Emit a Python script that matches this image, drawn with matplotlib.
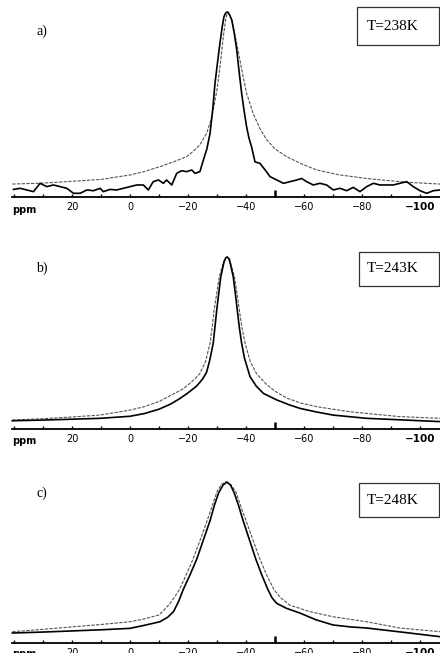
import matplotlib
matplotlib.use("Agg")
import matplotlib.pyplot as plt
from matplotlib.patches import Rectangle

# ---- data (ppm, normalised intensity) ----
labels = ["a)", "b)", "c)"]
temps = ["T=238K", "T=243K", "T=248K"]

# a) 238 K
ppm_a_exp = [40.2, 37.9, 35.6, 33.3, 31.0, 28.7, 26.4, 24.1, 21.8, 19.5, 17.2, 14.9,
             12.6, 10.3, 9.2, 6.9, 4.6, 2.3, 0.0, -2.3, -4.6, -6.3, -8.0, -9.8,
             -11.5, -12.6, -14.4, -16.1, -17.8, -19.5, -21.3, -22.4, -24.1, -25.3,
             -26.5, -27.6, -28.5, -29.3, -30.2, -31.0, -31.8, -32.4, -33.0, -33.6,
             -34.3, -35.1, -36.0, -36.8, -37.6, -38.5, -39.4, -40.2, -41.0, -41.9,
             -43.1, -44.8, -46.6, -48.3, -50.6, -52.9, -55.2, -57.5, -59.2, -60.9,
             -63.2, -65.5, -67.8, -70.1, -72.4, -74.7, -77.0, -79.3, -81.6, -83.9,
             -86.2, -88.5, -90.8, -93.1, -95.4, -97.7, -100.0, -102.3, -104.6, -106.9]
int_a_exp = [0.041, 0.047, 0.038, 0.029, 0.074, 0.056, 0.065, 0.056, 0.047, 0.020, 0.020, 0.038,
             0.034, 0.047, 0.029, 0.041, 0.038, 0.047, 0.056, 0.065, 0.065, 0.038, 0.083, 0.092,
             0.074, 0.092, 0.065, 0.128, 0.142, 0.137, 0.146, 0.128, 0.137, 0.200,
             0.260, 0.344, 0.470, 0.614, 0.730, 0.830, 0.920, 0.975, 0.995, 1.000,
             0.985, 0.957, 0.880, 0.795, 0.680, 0.560, 0.460, 0.380, 0.320, 0.272,
             0.190, 0.182, 0.146, 0.110, 0.092, 0.074, 0.083, 0.092, 0.100, 0.083,
             0.065, 0.074, 0.065, 0.038, 0.047, 0.034, 0.052, 0.029, 0.056, 0.074,
             0.065, 0.065, 0.065, 0.074, 0.083, 0.056, 0.034, 0.020, 0.034, 0.038]
ppm_a_sim = [40.6, 30.0, 21.8, 10.0, 0.0, -5.0, -10.3, -15.0, -19.5, -22.0, -24.0, -26.4,
             -27.6, -28.7, -30.0, -31.0, -32.2, -33.0, -33.6, -34.2, -34.8, -35.6, -36.8,
             -37.9, -39.0, -40.2, -42.5, -44.8, -47.1, -50.0, -54.0, -59.0, -64.4, -72.0,
             -81.6, -95.0, -107.0]
int_a_sim = [0.070, 0.075, 0.083, 0.095, 0.119, 0.138, 0.164, 0.190, 0.218, 0.250, 0.280, 0.344,
             0.400, 0.470, 0.580, 0.700, 0.870, 0.960, 1.000, 0.995, 0.970, 0.920, 0.830,
             0.740, 0.650, 0.560, 0.450, 0.370, 0.310, 0.260, 0.218, 0.180, 0.146, 0.120,
             0.100, 0.080, 0.070]

# b) 243 K
ppm_b_exp = [40.6, 30.0, 20.0, 10.3, 0.0, -5.0, -10.0, -14.0, -17.0, -20.0, -23.0, -25.0,
             -26.4, -27.5, -28.7, -29.9, -30.6, -31.3, -32.4, -33.0, -33.5, -34.1, -34.6,
             -35.6, -36.3, -37.0, -37.7, -38.5, -39.5, -41.4, -43.5, -46.0, -50.6, -55.0,
             -58.6, -64.0, -70.0, -81.6, -95.0, -107.0]
int_b_exp = [0.048, 0.052, 0.057, 0.062, 0.074, 0.090, 0.115, 0.145, 0.175, 0.210, 0.250, 0.290,
             0.330, 0.400, 0.500, 0.690, 0.790, 0.885, 0.970, 0.995, 1.000, 0.990, 0.960,
             0.885, 0.790, 0.690, 0.590, 0.498, 0.410, 0.304, 0.250, 0.207, 0.169, 0.140,
             0.120, 0.100, 0.081, 0.062, 0.052, 0.043]
ppm_b_sim = [40.6, 30.0, 20.0, 10.3, 0.0, -5.0, -10.0, -14.0, -18.0, -21.0, -24.0, -26.0,
             -27.6, -28.4, -29.0, -30.0, -30.8, -32.2, -33.0, -33.6, -34.3, -34.8, -36.0,
             -36.9, -37.7, -38.6, -39.7, -41.5, -43.7, -47.0, -50.0, -54.0, -59.0, -64.4,
             -70.0, -76.0, -85.0, -93.0, -107.0]
int_b_sim = [0.052, 0.060, 0.070, 0.081, 0.110, 0.130, 0.160, 0.195, 0.230, 0.270, 0.320, 0.390,
             0.498, 0.600, 0.690, 0.800, 0.885, 0.970, 0.995, 1.000, 0.990, 0.960, 0.885,
             0.790, 0.690, 0.590, 0.498, 0.390, 0.320, 0.260, 0.220, 0.180, 0.150, 0.130,
             0.115, 0.100, 0.085, 0.072, 0.062]

# c) 248 K
ppm_c_exp = [40.6, 30.0, 20.0, 10.0, 0.0, -5.0, -10.3, -13.0, -15.0, -16.8, -18.3, -20.6,
             -23.0, -25.3, -27.6, -29.0, -30.5, -32.0, -33.4, -34.7, -36.0, -37.5, -39.0,
             -41.2, -43.4, -45.5, -47.6, -49.0, -50.6, -54.0, -58.6, -64.0, -70.0, -76.0,
             -81.6, -95.0, -107.0]
int_c_exp = [0.062, 0.068, 0.075, 0.082, 0.091, 0.110, 0.132, 0.160, 0.195, 0.260, 0.330, 0.420,
             0.520, 0.640, 0.760, 0.850, 0.930, 0.980, 1.000, 0.980, 0.930, 0.850, 0.760,
             0.640, 0.520, 0.420, 0.330, 0.280, 0.246, 0.215, 0.186, 0.145, 0.112, 0.100,
             0.093, 0.065, 0.039]
ppm_c_sim = [40.6, 30.0, 20.0, 10.0, 0.0, -5.0, -10.0, -12.0, -14.0, -15.5, -17.0, -19.3,
             -21.7, -24.2, -26.6, -28.3, -30.0, -31.5, -33.0, -34.7, -36.5, -38.2, -40.0,
             -42.4, -44.8, -47.2, -49.7, -52.0, -55.0, -62.0, -70.0, -81.6, -93.0, -107.0]
int_c_sim = [0.070, 0.085, 0.100, 0.115, 0.132, 0.150, 0.174, 0.210, 0.250, 0.290, 0.330, 0.420,
             0.520, 0.640, 0.760, 0.850, 0.940, 0.985, 1.000, 0.985, 0.940, 0.850, 0.760,
             0.640, 0.520, 0.420, 0.330, 0.280, 0.236, 0.195, 0.163, 0.132, 0.093, 0.070]

panels = [
    (ppm_a_exp, int_a_exp, ppm_a_sim, int_a_sim),
    (ppm_b_exp, int_b_exp, ppm_b_sim, int_b_sim),
    (ppm_c_exp, int_c_exp, ppm_c_sim, int_c_sim),
]

# pixel layout of each panel: (top of peak, axis line), label y, box (top, bottom)
W, H = 440, 653
rows = [(12, 197), (257, 429), (482, 643)]
label_y = [31, 268, 493]
boxes = [(7, 45), (252, 286), (483, 517)]

fig = plt.figure(figsize=(W / 100, H / 100), dpi=100)
serif = "Liberation Serif"


def tick_text(t):
    if t % 20 != 0 or t > 20 or t < -100:
        return ""
    return ("\u2212%d" % -t) if t < 0 else "%d" % t


for i, (pe, ie, ps, is_) in enumerate(panels):
    top, bot = rows[i]
    ax = fig.add_axes([12 / W, (H - bot) / H, 1 - 12 / W, (bot - top) / H])
    ax.plot(ps, is_, color="#555555", lw=0.8, ls=(0, (3, 1.2)), clip_on=False)
    ax.plot(pe, ie, color="black", lw=1.2, clip_on=False)
    ax.set_xlim(40.7, -106.9)
    ax.set_ylim(0, 1)
    for s in ["top", "left", "right"]:
        ax.spines[s].set_visible(False)
    ax.spines["bottom"].set_linewidth(1.3)
    ax.set_yticks([])
    ticks = list(range(40, -110, -10))
    ax.set_xticks(ticks)
    ax.set_xticklabels([tick_text(t) for t in ticks], fontsize=7, family="DejaVu Sans")
    ax.tick_params(axis="x", direction="in", length=2.5, width=1, pad=3.5)
    for t, lab in zip(ax.xaxis.get_major_ticks(), ticks):
        if lab == -50:
            t.tick1line.set_markersize(5)
            t.tick1line.set_markeredgewidth(1.8)
        if lab == -100:
            t.label1.set_fontweight("bold")
            t.label1.set_fontsize(7.5)
    ax.text(36.5, -0.07, "ppm", fontsize=7, fontweight="bold", ha="center", va="center",
            transform=ax.transData, clip_on=False, family="DejaVu Sans")

    fig.text(42 / W, 1 - label_y[i] / H, labels[i], fontsize=10, family=serif,
             ha="center", va="center")
    bt, bb = boxes[i]
    bx = 357 if i == 0 else 359
    fig.patches.append(Rectangle((bx / W, 1 - bb / H), (W - bx - 1) / W, (bb - bt) / H,
                                 transform=fig.transFigure, fill=False, ec="#333333", lw=0.9))
    fig.text(367 / W, 1 - (bt + bb) / 2 / H, temps[i], fontsize=11, family=serif,
             ha="left", va="center")

fig.savefig("out.png", dpi=100)
